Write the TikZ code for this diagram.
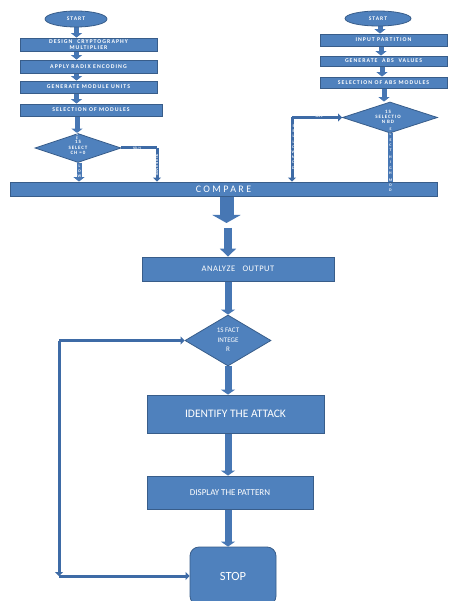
\documentclass[tikz,border=0pt]{standalone}
\usepackage{fontspec}
\setmainfont{Carlito}
\newfontfamily\widef[LetterSpace=18]{Carlito}
\newfontfamily\cmpf[LetterSpace=24]{Carlito}
\newfontfamily\anf[LetterSpace=6]{Carlito}
\usetikzlibrary{shapes.geometric,arrows.meta,backgrounds}
\definecolor{bblue}{HTML}{4F81BD}
\definecolor{bdark}{HTML}{385D8A}
\definecolor{lblue}{HTML}{3E6BA6}
\definecolor{ablue}{HTML}{4777B4}
\begin{document}
\begin{tikzpicture}[x=1pt,y=-1pt,
  box/.style={draw=bdark, line width=0.8pt, fill=bblue, text=white, inner sep=0pt, align=center},
  smallbox/.style={box, font=\widef\bfseries\fontsize{5.8}{5.9}\selectfont},
  ell/.style={ellipse, box, font=\widef\bfseries\fontsize{5.6}{6}\selectfont},
  dia/.style={diamond, box, aspect=1},
  dtext/.style={text=white, inner sep=0pt, align=center, font=\widef\bfseries\fontsize{5}{5.3}\selectfont},
  vtext/.style={text=white!92!bblue, inner sep=0pt, align=center, font=\bfseries\fontsize{4}{5.2}\selectfont},
  tinytext/.style={text=white!90!bblue, inner sep=0pt, font=\bfseries\fontsize{3.5}{4}\selectfont},
  arrS/.style={draw=ablue, line width=5pt, -{Triangle[width=11pt,length=4.5pt]}},
  arrM/.style={draw=ablue, line width=7pt, -{Triangle[width=14pt,length=5pt]}},
  arrBig/.style={draw=ablue, line width=14pt, -{Triangle[width=28pt,length=8pt]}},
  arrMid/.style={draw=ablue, line width=8pt, -{Triangle[width=16pt,length=8pt]}},
  arrT/.style={draw=lblue, line width=3pt, -{Triangle[width=8pt,length=4pt]}},
  lineT/.style={draw=lblue, line width=3pt},
  lineS/.style={draw=ablue, line width=4.5pt}
]
\useasboundingbox (0,0) rectangle (449,601);

% ---------- left column ----------
\node[ell, minimum width=62pt, minimum height=16pt] (s1) at (76,19) {START};
\node[smallbox, minimum width=137pt, minimum height=13pt] (b1) at (88.5,44.5) {DESIGN\ \ CRYPTOGRAPHY\\MULTIPLIER};
\node[smallbox, minimum width=137pt, minimum height=13pt] (b2) at (88.5,66.5) {APPLY RADIX ENCODING};
\node[smallbox, minimum width=137pt, minimum height=12pt] (b3) at (88.5,87) {GENERATE MODULE UNITS};
\node[smallbox, minimum width=142pt, minimum height=12pt] (b4) at (91,110) {SELECTION OF MODULES};
\node[dia, minimum width=86pt, minimum height=29pt] (d1) at (78,148) {};
\node[dtext] (d1t) at (78,147.5) {1S\\SELECT\\CH =0};

% ---------- right column ----------
\node[ell, minimum width=66pt, minimum height=15pt] (s2) at (378,18.5) {START};
\node[smallbox, minimum width=127pt, minimum height=12pt] (c1) at (383.5,40) {INPUT PARTITION};
\node[smallbox, minimum width=127pt, minimum height=10pt] (c2) at (383.5,61) {GENERATE\ \ ABS\ \ VALUES};
\node[smallbox, minimum width=127pt, minimum height=11pt] (c3) at (383.5,82.5) {SELECTION OF ABS MODULES};
\node[dia, minimum width=95pt, minimum height=31pt] (d2) at (390,117.5) {};
\node[dtext] (d2t) at (388,117) {1S\\SELECTIO\\N BD};

% ---------- compare and lower flow ----------
\node[box, minimum width=427pt, minimum height=14pt, font=\cmpf\fontsize{10}{11}\selectfont] (cmp) at (223.5,189) {COMPARE};
\node[box, minimum width=192pt, minimum height=24pt, font=\anf\fontsize{8.5}{10}\selectfont] (an) at (238,269) {ANALYZE\ \ \ OUTPUT};
\node[dia, minimum width=86pt, minimum height=51pt] (d3) at (228,340.5) {};
\node[text=white, inner sep=0pt, align=center, font=\fontsize{7}{9.5}\selectfont] (d3t) at (228,340) {1S FACT\\INTEGE\\R};
\node[box, minimum width=177pt, minimum height=38pt, font=\fontsize{11.5}{13}\selectfont] (id) at (235.5,414) {IDENTIFY THE ATTACK};
\node[box, minimum width=166pt, minimum height=33pt, font=\fontsize{9}{11}\selectfont] (dp) at (230,492.5) {DISPLAY THE PATTERN};
\node[box, rounded corners=9pt, minimum width=86pt, minimum height=58pt, font=\fontsize{12.5}{14}\selectfont] (stop) at (233,576) {STOP};

% ---------- labels on connectors ----------
\node[vtext] (v1) at (77,136.5) {S\\[-1.2pt]E};
\node[vtext] (v2) at (79.5,171) {L\\O\\W};
\node[vtext, rotate=-90, font=\bfseries\fontsize{3.5}{4}\selectfont] (v3) at (157,165) {SEL HIGH MOD};
\node[tinytext] (l1) at (137,148.3) {SEL H};
\node[tinytext] (l2) at (319,116.8) {SEL L};
\node[vtext] (v4) at (293.5,147) {S\\E\\L\\L\\O\\W\\M\\O\\D};
\node[vtext] (v5) at (390.5,160) {E\\L\\E\\C\\T\\[2pt]H\\I\\G\\H\\[2pt]M\\O\\D};

\coordinate (r1) at (157,148);
\coordinate (q1) at (292,117.5);
\coordinate (cA) at (226.5,223);
\coordinate (cB) at (228,228);
\coordinate (lT) at (59,340.5);
\coordinate (lB) at (59,576);

\begin{scope}[on background layer]
  \fill[white] (0,0) rectangle (449,601);
  % left column
  \draw[arrS] (s1.south -| 76.5,0) -- (b1.north -| 76.5,0);
  \draw[arrS] (b1.south -| 76.5,0) -- (b2.north -| 76.5,0);
  \draw[arrS] (b2.south -| 76.5,0) -- (b3.north -| 76.5,0);
  \draw[arrS] (b3.south -| 76.5,0) -- (b4.north -| 76.5,0);
  \draw[arrS] (b4.south -| 77,0) -- (d1.north -| 77,0);
  \draw[arrS] (d1.south -| 79,0) -- (cmp.north -| 79,0);
  \draw[lineT] (d1.east) -- (r1);
  \draw[arrT] (r1) -- (cmp.north -| r1);
  % right column
  \draw[arrS] (s2.south -| 380,0) -- (c1.north -| 380,0);
  \draw[arrS] (c1.south -| 381,0) -- (c2.north -| 381,0);
  \draw[arrS] (c2.south -| 382,0) -- (c3.north -| 382,0);
  \draw[arrS] (c3.south -| 384,0) -- (d2.north -| 384,0);
  \draw[arrT] (q1) -- (d2.west);
  \draw[arrT] (q1) -- (cmp.north -| q1);
  \draw[lineS] (d2.south -| 390.5,0) -- (cmp.north -| 390.5,0);
  % lower flow
  \draw[arrBig] (cmp.south -| cA) -- (cA);
  \draw[arrMid] (cB) -- (an.north -| cB);
  \draw[arrM] (an.south -| d3.north) -- (d3.north);
  \draw[arrM] (d3.south) -- (id.north -| d3.south);
  \draw[arrM] (id.south -| d3.south) -- (dp.north -| d3.south);
  \draw[arrM] (dp.south -| d3.south) -- (stop.north -| d3.south);
  % loop
  \draw[arrT] (lT) -- (d3.west);
  \draw[arrT] (lT) -- (lB);
  \draw[arrT] (lB) -- (stop.west);
\end{scope}
\end{tikzpicture}
\end{document}
